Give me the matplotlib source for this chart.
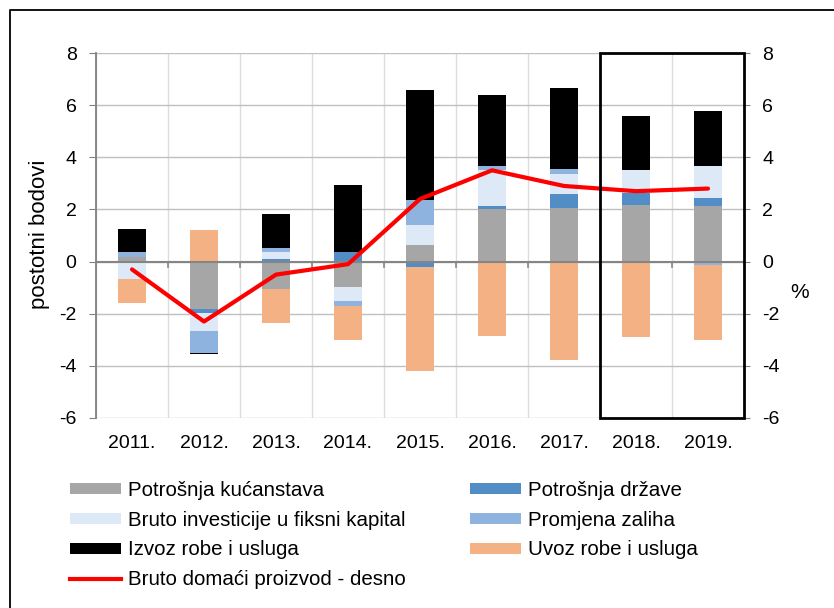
import numpy as np
import matplotlib
matplotlib.use("Agg")
import matplotlib.pyplot as plt
from matplotlib.patches import Rectangle, Patch
from matplotlib.lines import Line2D

plt.rcParams['font.family'] = ['Liberation Sans', 'DejaVu Sans']
plt.rcParams['axes.unicode_minus'] = False

years = ['2011.', '2012.', '2013.', '2014.', '2015.', '2016.', '2017.', '2018.', '2019.']

kucanstva = [0.18, -1.82, -1.06, -0.97, 0.64, 2.01, 2.05, 2.17, 2.13]
drzava = [0.00, -0.15, 0.10, 0.36, -0.22, 0.13, 0.53, 0.47, 0.31]
investicije = [-0.67, -0.68, 0.28, -0.55, 0.76, 1.37, 0.77, 0.87, 1.22]
zalihe = [0.20, -0.85, 0.15, -0.19, 0.95, 0.15, 0.20, 0.00, -0.14]
izvoz = [0.86, -0.04, 1.31, 2.59, 4.24, 2.72, 3.12, 2.09, 2.10]
uvoz = [-0.92, 1.20, -1.30, -1.31, -3.99, -2.85, -3.76, -2.90, -2.85]
bdp = [-0.3, -2.3, -0.5, -0.1, 2.4, 3.5, 2.9, 2.7, 2.8]

series = [
    ('Potrošnja kućanstava', kucanstva, '#a6a6a6'),
    ('Potrošnja države', drzava, '#538dc5'),
    ('Bruto investicije u fiksni kapital', investicije, '#dde9f6'),
    ('Promjena zaliha', zalihe, '#8db3de'),
    ('Izvoz robe i usluga', izvoz, '#000000'),
    ('Uvoz robe i usluga', uvoz, '#f4b183'),
]
gdp_label = 'Bruto domaći proizvod - desno'

W, H = 834, 608
fig = plt.figure(figsize=(W / 100, H / 100), dpi=100)
L, R, T, B = 96, 744, 53, 418
ax = fig.add_axes([L / W, 1 - B / H, (R - L) / W, (B - T) / H])

x = np.arange(len(years))
pos = np.zeros(len(years))
neg = np.zeros(len(years))
handles = {}
for name, vals, col in series:
    v = np.array(vals)
    bottom = np.where(v >= 0, pos, neg)
    ax.bar(x, v, 0.4, bottom=bottom, color=col, linewidth=0, zorder=3)
    pos = pos + np.where(v >= 0, v, 0)
    neg = neg + np.where(v < 0, v, 0)
    handles[name] = Patch(facecolor=col, edgecolor='none')

ax.set_xlim(-0.5, len(years) - 0.5)
ax.set_ylim(-6, 8)
ax.set_yticks(np.arange(-6, 9, 2))
ax.set_xticks(x)
ax.set_xticklabels(years, fontsize=14)
ax.set_xticks(np.arange(-0.5, len(years), 1), minor=True)
ax.tick_params(axis='x', which='both', length=0, pad=12)
ax.tick_params(axis='y', labelsize=14, length=5, color='#808080', pad=9)
ax.grid(axis='y', which='major', color='#c0c0c0', lw=1, zorder=0)
ax.grid(axis='x', which='minor', color='#dcdcdc', lw=1, zorder=0)
for s in ['top', 'bottom', 'right']:
    ax.spines[s].set_visible(False)
ax.spines['left'].set_color('#808080')
ax.spines['left'].set_linewidth(1.3)

# zero axis with category-boundary ticks
ax.axhline(0, color='#858585', lw=1.5, zorder=4)
z = 6 / 14
for b in np.arange(0.5, len(years) - 1, 1):
    ax.axvline(b, ymin=z - 5 / 365, ymax=z, color='#858585', lw=1.2, zorder=4)

ax2 = ax.twinx()
ax2.set_ylim(-6, 8)
ax2.set_yticks(np.arange(-6, 9, 2))
ax2.tick_params(axis='y', labelsize=14, length=4, color='#808080', pad=9)
for s in ['top', 'bottom', 'left', 'right']:
    ax2.spines[s].set_visible(False)
line, = ax2.plot(x, bdp, color='#ff0000', lw=3, solid_capstyle='round', zorder=5)

# box around forecast years
ax2.add_patch(Rectangle((6.5, 0), 2.0, 1, transform=ax2.get_xaxis_transform(),
                        fill=False, edgecolor='black', lw=2, zorder=6, clip_on=False))

fig.text(40 / W, 1 - 234 / H, 'postotni bodovi', rotation=90, ha='center', va='center', fontsize=16)
fig.text(800 / W, 1 - 292 / H, '%', ha='center', va='center', fontsize=15)

names = [n for n, _, _ in series]
order = [names[0], names[2], names[4], gdp_label, names[1], names[3], names[5]]
handles[gdp_label] = Line2D([], [], color='#ff0000', lw=3)
leg = fig.legend([handles[n] for n in order], order, ncol=2, loc='upper left',
                 bbox_to_anchor=(70 / W, 1 - 481 / H), frameon=False, fontsize=14.8,
                 handlelength=2.5, handleheight=0.45, handletextpad=0.3,
                 labelspacing=0.52, columnspacing=3.15, borderpad=0, borderaxespad=0)

# outer frame (left and top edges)
fig.add_artist(Line2D([10 / W, 10 / W, 1], [0, 1 - 10 / H, 1 - 10 / H],
                      transform=fig.transFigure, color='black', lw=1.3))

fig.savefig('out.png', dpi=100)
